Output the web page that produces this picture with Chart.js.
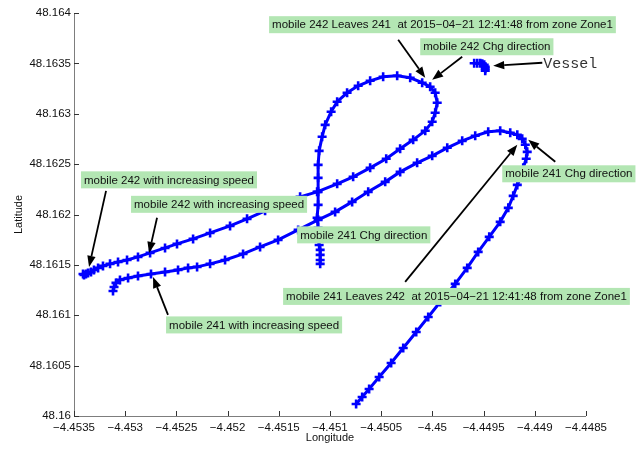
<!DOCTYPE html>
<html>
<head>
<meta charset="utf-8">
<script src="https://cdn.jsdelivr.net/npm/chart.js@4/dist/chart.umd.min.js"></script>
<style>
html,body{margin:0;padding:0;background:#fff;}
#wrap{width:637px;height:452px;position:relative;}
</style>
</head>
<body>
<div id="wrap"><canvas id="c" width="637" height="452"></canvas></div>
<script>
// ---- data (longitude / latitude) ----
const lon241 = [-4.450745,-4.450686,-4.450618,-4.450520,-4.450403,-4.450285,-4.450158,-4.450041,-4.449924,-4.449777,
  -4.449660,-4.449553,-4.449445,-4.449338,-4.449259,-4.449211,-4.449171,-4.449132,-4.449113,-4.449084,
  -4.449074,-4.449093,-4.449123,-4.449171,-4.449240,-4.449338,-4.449455,-4.449582,-4.449709,-4.449855,
  -4.450002,-4.450149,-4.450315,-4.450461,-4.450627,-4.450784,-4.450950,-4.451116,-4.451311,-4.451507,
  -4.451683,-4.451849,-4.452025,-4.452171,-4.452298,-4.452386,-4.452484,-4.452611,-4.452748,-4.452875,
  -4.452972,-4.453051,-4.453090,-4.453109,-4.453119];
const lat241 = [48.160119,48.160188,48.160268,48.160387,48.160526,48.160675,48.160834,48.160983,48.161132,48.161311,
  48.161470,48.161629,48.161778,48.161927,48.162066,48.162185,48.162294,48.162374,48.162463,48.162553,
  48.162622,48.162692,48.162751,48.162791,48.162811,48.162831,48.162821,48.162781,48.162731,48.162662,
  48.162582,48.162513,48.162423,48.162324,48.162225,48.162125,48.162026,48.161947,48.161847,48.161748,
  48.161678,48.161609,48.161549,48.161510,48.161480,48.161470,48.161450,48.161430,48.161410,48.161390,
  48.161370,48.161351,48.161321,48.161281,48.161241];

const lon242 = [-4.451096,-4.451096,-4.451096,-4.451096,-4.451106,-4.451116,-4.451116,-4.451126,-4.451116,-4.451116,
  -4.451116,-4.451116,-4.451106,-4.451077,-4.451047,-4.450989,-4.450930,-4.450833,-4.450725,-4.450608,
  -4.450481,-4.450344,-4.450217,-4.450100,-4.450022,-4.449973,-4.449953,-4.449973,-4.450002,-4.450070,
  -4.450188,-4.450315,-4.450451,-4.450608,-4.450774,-4.450930,-4.451126,-4.451292,-4.451458,-4.451634,
  -4.451810,-4.451976,-4.452171,-4.452337,-4.452494,-4.452611,-4.452757,-4.452875,-4.452982,-4.453070,
  -4.453148,-4.453217,-4.453265,-4.453305,-4.453334,-4.453363,-4.453383,-4.453402,-4.453412];
const lat242 = [48.161510,48.161549,48.161599,48.161649,48.161698,48.161778,48.161867,48.161967,48.162096,48.162225,
  48.162364,48.162493,48.162632,48.162771,48.162890,48.163020,48.163119,48.163208,48.163278,48.163327,
  48.163367,48.163377,48.163357,48.163308,48.163268,48.163208,48.163109,48.163010,48.162920,48.162831,
  48.162741,48.162652,48.162553,48.162463,48.162374,48.162304,48.162225,48.162175,48.162106,48.162036,
  48.161957,48.161887,48.161817,48.161758,48.161708,48.161668,48.161619,48.161579,48.161549,48.161529,
  48.161510,48.161490,48.161470,48.161450,48.161430,48.161420,48.161410,48.161400,48.161410];

const lonVessel = [-4.449592,-4.449562,-4.449533,-4.449513,-4.449494,-4.449484,-4.449484,-4.449484];
const latVessel = [48.163501,48.163501,48.163501,48.163496,48.163486,48.163467,48.163447,48.163427];

const xTickValues = [-4.4535,-4.453,-4.4525,-4.452,-4.4515,-4.451,-4.4505,-4.45,-4.4495,-4.449,-4.4485];
const xTickLabels = ['\u22124.4535','\u22124.453','\u22124.4525','\u22124.452','\u22124.4515','\u22124.451','\u22124.4505','\u22124.45','\u22124.4495','\u22124.449','\u22124.4485'];
const yTickValues = [48.16,48.1605,48.161,48.1615,48.162,48.1625,48.163,48.1635,48.164];
const yTickLabels = ['48.16','48.1605','48.161','48.1615','48.162','48.1625','48.163','48.1635','48.164'];

const noteTexts = [
  'mobile 242 Leaves 241  at 2015\u221204\u221221 12:41:48 from zone Zone1',
  'mobile 242 Chg direction',
  'mobile 242 with increasing speed',
  'mobile 242 with increasing speed',
  'mobile 241 Chg direction',
  'mobile 241 Chg direction',
  'mobile 241 Leaves 242  at 2015\u221204\u221221 12:41:48 from zone Zone1',
  'mobile 241 with increasing speed'
];
const noteLon = [-4.451595,-4.450119,-4.453432,-4.452943,-4.451321,-4.449318,-4.451458,-4.452601];
const noteLat = [48.163884,48.163665,48.162344,48.162101,48.161798,48.162404,48.161187,48.160904];

const arrowFromLon = [-4.450334,-4.449709,-4.448927,-4.448800,-4.450266,-4.453187,-4.452689,-4.452582];
const arrowFromLat = [48.163735,48.163566,48.163506,48.162523,48.161331,48.162235,48.161967,48.161003];
const arrowToLon   = [-4.450070,-4.450002,-4.449406,-4.449064,-4.449171,-4.453353,-4.452767,-4.452728];
const arrowToLat   = [48.163357,48.163337,48.163476,48.162741,48.162692,48.161480,48.161619,48.161380];

const vesselText = 'Vessel';
const vesselTextLon = -4.448917;
const vesselTextLat = 48.163496;

// ---- chart ----
const pts = (xs, ys) => xs.map((x, i) => ({x: x, y: ys[i]}));
const trackStyle = {
  showLine: true, borderColor: '#0000ff', backgroundColor: '#0000ff', borderWidth: 3,
  pointStyle: 'cross', pointRadius: 4.5, pointBorderWidth: 2.6, pointBorderColor: '#0000ff',
  pointHoverRadius: 4.5, tension: 0, fill: false
};

const decor = {
  id: 'decor',
  afterDatasetsDraw(chart) {
    const ctx = chart.ctx, xs = chart.scales.x, ys = chart.scales.y, a = chart.chartArea;
    ctx.save();
    // axes
    ctx.strokeStyle = '#7d7d7d'; ctx.lineWidth = 1;
    ctx.beginPath();
    ctx.moveTo(a.left + 0.5, a.top); ctx.lineTo(a.left + 0.5, a.bottom + 0.5);
    ctx.lineTo(a.right, a.bottom + 0.5);
    ctx.stroke();
    // inward ticks
    ctx.strokeStyle = '#333'; ctx.beginPath();
    xTickValues.forEach(v => { const p = Math.round(xs.getPixelForValue(v)) + 0.5; ctx.moveTo(p, a.bottom); ctx.lineTo(p, a.bottom - 5); });
    yTickValues.forEach(v => { const p = Math.round(ys.getPixelForValue(v)) + 0.5; ctx.moveTo(a.left, p); ctx.lineTo(a.left + 5, p); });
    ctx.stroke();
    // note boxes
    ctx.font = '11.5px "Liberation Sans", Arial, sans-serif';
    ctx.textBaseline = 'middle'; ctx.textAlign = 'left';
    noteTexts.forEach((t, i) => {
      const px = xs.getPixelForValue(noteLon[i]), py = ys.getPixelForValue(noteLat[i]);
      const w = ctx.measureText(t).width + 6;
      ctx.fillStyle = 'rgb(179,230,179)';
      ctx.fillRect(px, py - 8.5, w, 17);
      ctx.fillStyle = '#111';
      ctx.fillText(t, px + 3, py + 0.5);
    });
    // arrows
    ctx.strokeStyle = '#000'; ctx.fillStyle = '#000'; ctx.lineWidth = 1.8;
    arrowFromLon.forEach((v, i) => {
      const x0 = xs.getPixelForValue(v), y0 = ys.getPixelForValue(arrowFromLat[i]);
      const x1 = xs.getPixelForValue(arrowToLon[i]), y1 = ys.getPixelForValue(arrowToLat[i]);
      const ang = Math.atan2(y1 - y0, x1 - x0), hl = 11, hw = 4.2;
      const bx = x1 - hl * Math.cos(ang), by = y1 - hl * Math.sin(ang);
      ctx.beginPath(); ctx.moveTo(x0, y0); ctx.lineTo(bx, by); ctx.stroke();
      ctx.beginPath(); ctx.moveTo(x1, y1);
      ctx.lineTo(bx + hw * Math.sin(ang), by - hw * Math.cos(ang));
      ctx.lineTo(bx - hw * Math.sin(ang), by + hw * Math.cos(ang));
      ctx.closePath(); ctx.fill();
    });
    // vessel text
    ctx.font = '15px "Liberation Mono", "Courier New", monospace';
    ctx.fillStyle = '#333';
    ctx.fillText(vesselText, xs.getPixelForValue(vesselTextLon), ys.getPixelForValue(vesselTextLat));
    ctx.restore();
  }
};

new Chart(document.getElementById('c'), {
  type: 'scatter',
  data: {
    datasets: [
      Object.assign({label: 'mobile 241', data: pts(lon241, lat241)}, trackStyle),
      Object.assign({label: 'mobile 242', data: pts(lon242, lat242)}, trackStyle),
      Object.assign({label: 'Vessel', data: pts(lonVessel, latVessel)}, trackStyle)
    ]
  },
  options: {
    responsive: false, animation: false,
    layout: {padding: {left: 0, top: 13, right: 51, bottom: 0}},
    plugins: {legend: {display: false}, tooltip: {enabled: false}},
    scales: {
      x: {
        type: 'linear', min: -4.4535, max: -4.4485,
        afterBuildTicks: s => { s.ticks = xTickValues.map(v => ({value: v})); },
        afterFit: s => { s.height = 36; },
        grid: {display: false, drawTicks: false}, border: {display: false},
        ticks: {callback: (v, i) => xTickLabels[i], color: '#111', maxRotation: 0, autoSkip: false, padding: 5,
                font: {family: '"Liberation Sans", Arial, sans-serif', size: 11.5}},
        title: {display: true, text: 'Longitude', color: '#111', padding: {top: 0, bottom: 7},
                font: {family: '"Liberation Sans", Arial, sans-serif', size: 11}}
      },
      y: {
        type: 'linear', min: 48.16, max: 48.164,
        afterBuildTicks: s => { s.ticks = yTickValues.map(v => ({value: v})); },
        afterFit: s => { s.width = 74; },
        grid: {display: false, drawTicks: false}, border: {display: false},
        ticks: {callback: (v, i) => yTickLabels[i], color: '#111', autoSkip: false, padding: 3,
                font: {family: '"Liberation Sans", Arial, sans-serif', size: 11.5}},
        title: {display: true, text: 'Latitude', color: '#111', padding: {top: 12, bottom: 0},
                font: {family: '"Liberation Sans", Arial, sans-serif', size: 11}}
      }
    }
  },
  plugins: [decor]
});
</script>
</body>
</html>
